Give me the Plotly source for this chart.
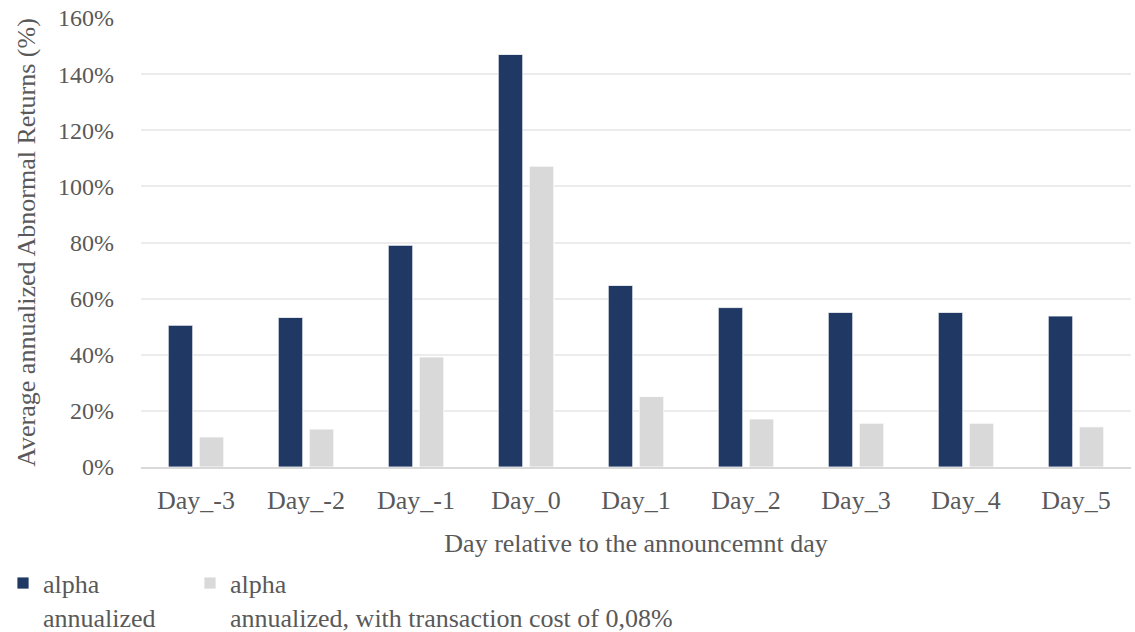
import plotly.graph_objects as go

# Event-window days and average annualized abnormal returns (%)
days = ["Day_-3", "Day_-2", "Day_-1", "Day_0", "Day_1", "Day_2", "Day_3", "Day_4", "Day_5"]
alpha_annualized = [50.5, 53.3, 79.0, 147.0, 64.7, 56.8, 55.1, 55.1, 53.8]
alpha_with_cost = [10.7, 13.5, 39.2, 107.2, 25.1, 17.1, 15.6, 15.6, 14.3]

series_names = ["alpha<br>annualized", "alpha<br>annualized, with transaction cost of 0,08%"]
y_ticks = [0, 20, 40, 60, 80, 100, 120, 140, 160]
y_tick_text = [f"{v}%" for v in y_ticks]

FONT = "Liberation Serif"
TEXT = "#595959"

fig = go.Figure()
fig.add_trace(go.Bar(
    x=days, y=alpha_annualized, name=series_names[0], legend="legend",
    marker=dict(color="#203864", line=dict(color="#ffffff", width=0.8)),
))
fig.add_trace(go.Bar(
    x=days, y=alpha_with_cost, name=series_names[1], legend="legend2",
    marker=dict(color="#d9d9d9", line=dict(color="#ffffff", width=0.8)),
))

legend_common = dict(
    orientation="h", xref="container", yref="container",
    y=0.1145, xanchor="left", yanchor="top", valign="top",
    font=dict(size=26, color=TEXT, family=FONT),
    bgcolor="rgba(0,0,0,0)", itemclick=False,
)

fig.update_layout(
    width=1135, height=632,
    margin=dict(l=141, r=4, t=18, b=165),
    paper_bgcolor="white", plot_bgcolor="white",
    font=dict(family=FONT, size=26, color=TEXT),
    barmode="group", bargap=0.436, bargroupgap=0.21,
    showlegend=True,
    legend=dict(x=3 / 1135, **legend_common),
    legend2=dict(x=190 / 1135, **legend_common),
    xaxis=dict(
        showgrid=False, showline=True, linecolor="#d9d9d9", linewidth=1.5,
        ticks="", tickfont=dict(size=26, family=FONT), ticklabelstandoff=9,
        title=dict(text="Day relative to the announcemnt day",
                   font=dict(size=26, family=FONT), standoff=20),
    ),
    yaxis=dict(
        range=[0, 160], tickvals=y_ticks, ticktext=y_tick_text,
        showgrid=True, gridcolor="#ececec", gridwidth=1.5,
        zeroline=False, showline=False, ticks="",
        tickfont=dict(size=24, family=FONT), ticklabelstandoff=26,
        title=dict(text="Average annualized Abnormal Returns (%)",
                   font=dict(size=26, family=FONT), standoff=14),
    ),
)

fig.write_html("out.html")
